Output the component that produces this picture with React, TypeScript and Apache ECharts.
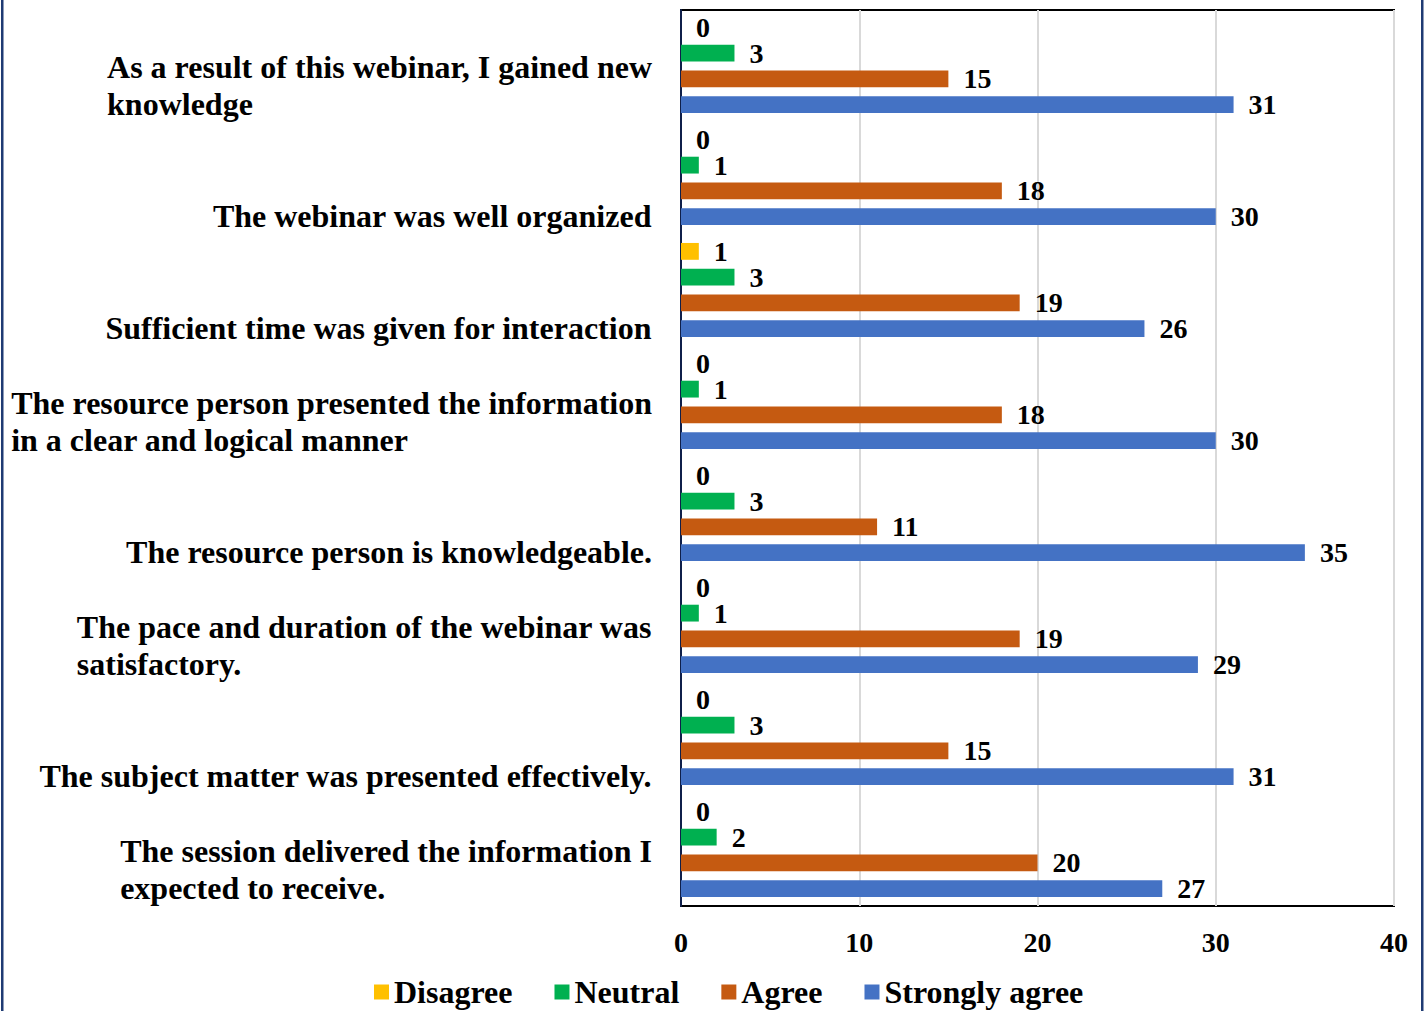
import React, { useEffect, useRef } from "react";
import * as echarts from "echarts";

const categories = [
  "As a result of this webinar, I gained new\nknowledge",
  "The webinar was well organized",
  "Sufficient time was given for interaction",
  "The resource person presented the information\nin a clear and logical manner",
  "The resource person is knowledgeable.",
  "The pace and duration of the webinar was\nsatisfactory.",
  "The subject matter was presented effectively.",
  "The session delivered the information I\nexpected to receive.",
];
const seriesNames = ["Disagree", "Neutral", "Agree", "Strongly agree"];
const disagree = [0, 0, 1, 0, 0, 0, 0, 0];
const neutral = [3, 1, 3, 1, 3, 1, 3, 2];
const agree = [15, 18, 19, 18, 11, 19, 15, 20];
const stronglyAgree = [31, 30, 26, 30, 35, 29, 31, 27];
const xTicks = [0, 10, 20, 30, 40];

const colors = ["#FFC000", "#00B050", "#C55A11", "#4472C4"];
const FONT = "'Liberation Serif', 'Times New Roman', serif";

export default function App() {
  const ref = useRef<HTMLDivElement>(null);
  useEffect(() => {
    if (!ref.current) return;
    const chart = echarts.init(ref.current, null, { renderer: "svg" });
    const values = [disagree, neutral, agree, stronglyAgree];
    const textBase = {
      fontFamily: FONT,
      fontWeight: "bold" as const,
      fontSize: 28,
      color: "#000",
    };
    const bigText = { ...textBase, fontSize: 32 };
    chart.setOption({
      animation: false,
      backgroundColor: "#fff",
      grid: {
        left: 681,
        right: 32,
        top: 10,
        bottom: 105,
        show: true,
        borderColor: "#000",
        borderWidth: 2,
        containLabel: false,
        outerBoundsMode: "none",
      },
      legend: {
        data: seriesNames,
        left: 369,
        top: 970,
        icon: "rect",
        itemWidth: 15,
        itemHeight: 15,
        itemGap: 42,
        textStyle: { ...bigText, lineHeight: 34 },
      },
      xAxis: {
        type: "value",
        min: xTicks[0],
        max: xTicks[xTicks.length - 1],
        interval: 10,
        axisLine: { show: false },
        axisTick: { show: false },
        splitLine: { show: true, lineStyle: { color: "#D9D9D9", width: 2 } },
        axisLabel: { ...textBase, margin: 22 },
      },
      yAxis: [
        {
          type: "category",
          data: categories,
          inverse: true,
          axisLine: { show: true, lineStyle: { color: "#0F1F4A", width: 2 } },
          axisTick: { show: false },
          axisLabel: { show: false },
        },
        {
          type: "category",
          data: ["", ...categories],
          inverse: true,
          boundaryGap: false,
          position: "left",
          axisLine: { show: false },
          axisTick: { show: false },
          splitLine: { show: false },
          axisLabel: {
            interval: 0,
            margin: 29,
            verticalAlign: "bottom",
            lineHeight: 37,
            ...bigText,
            formatter: (v: string) =>
              v
                .split("\n")
                .map((s) => `{l|${s}}`)
                .join("\n"),
            rich: {
              l: { ...bigText, align: "left", lineHeight: 37 },
            },
          },
        },
      ],
      graphic: [
        {
          type: "rect",
          shape: { x: 1, y: 0, width: 2.5, height: 1011 },
          style: { fill: "#1F3B73" },
        },
        {
          type: "rect",
          shape: { x: 1421, y: 0, width: 2.5, height: 1011 },
          style: { fill: "#1F3B73" },
        },
      ],
      series: seriesNames.map((name, i) => ({
        name,
        type: "bar",
        yAxisIndex: 0,
        data: values[i],
        barGap: "53%",
        barCategoryGap: "16%",
        itemStyle: { color: colors[i] },
        label: {
          show: true,
          position: "right",
          distance: 15,
          ...textBase,
        },
      })),
    });
    return () => chart.dispose();
  }, []);
  return (
    <div
      ref={ref}
      style={{ position: "fixed", left: 0, top: 0, width: 1426, height: 1011 }}
    />
  );
}
